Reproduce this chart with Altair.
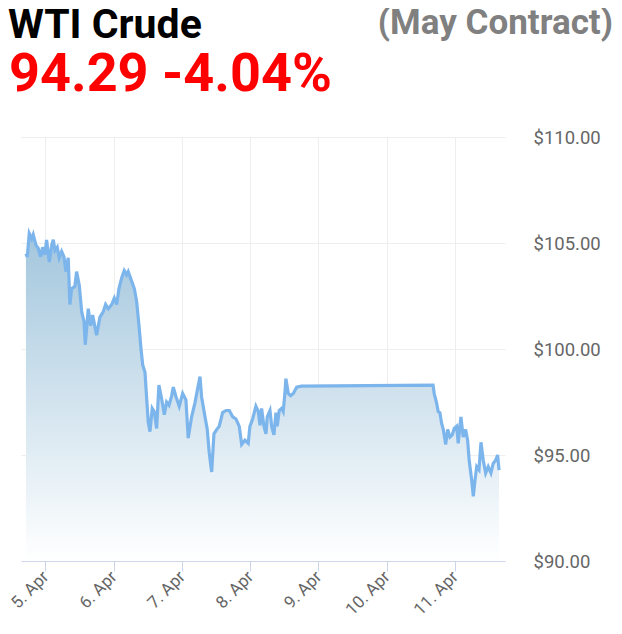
import altair as alt
import pandas as pd

# Hours since 5 Apr 2022 00:00 and WTI price readings
hours = [-6.86, -6.4, -5.7, -4.85, -4.3, -3.35, -2.55, -1.7, -1.0, -0.2,
         0.4, 1.35, 2.2, 2.75, 3.35, 4.15, 4.85, 5.7, 6.5, 7.2,
         8.0, 8.6, 9.2, 10.35, 10.95, 11.9, 12.75, 13.55, 14.0, 15.05,
         15.9, 16.6, 17.75, 18.0, 19.15, 20.3, 21.15, 22.1, 23.3, 24.2,
         25.05, 25.85, 26.8, 27.7, 28.55, 29.1, 30.3, 31.25, 32.05, 32.9,
         33.6, 34.2, 35.0, 35.6, 36.15, 36.75, 37.55, 38.25, 39.1, 39.9,
         40.85, 41.8, 42.6, 43.45, 44.4, 44.95, 45.9, 47.05, 48.25, 49.4,
         50.2, 51.4, 52.55, 53.4, 54.35, 54.9, 56.1, 56.9, 57.6, 58.45,
         59.25, 60.2, 61.1, 62.3, 63.5, 64.65, 65.85, 67.0, 68.15, 69.0,
         70.15, 71.3, 71.9, 72.85, 74.0, 74.85, 75.45, 76.0, 76.85, 77.55,
         78.0, 78.95, 79.55, 80.35, 81.05, 81.5, 82.2, 83.05, 83.6, 84.2,
         84.55, 85.4, 86.2, 87.15, 88.35, 90.0, 136.3, 136.7, 137.55, 138.1,
         138.7, 139.3, 139.9, 140.75, 141.45, 142.25, 143.05, 143.75, 144.6, 145.15,
         146.1, 146.9, 147.75, 148.45, 149.0, 149.9, 150.45, 151.05, 151.65, 152.45,
         153.15, 153.95, 154.8, 155.7, 156.65, 157.45, 158.3, 159.0, 159.5]
prices = [104.5, 104.35, 105.45, 105.2, 105.4, 104.9, 104.75, 104.35, 104.8, 104.45,
          105.15, 104.1, 104.9, 105.15, 104.65, 104.8, 104.3, 104.6, 104.35, 103.65,
          104.3, 102.1, 102.85, 102.95, 103.65, 103.0, 101.75, 101.3, 100.2, 101.9,
          101.1, 101.6, 100.8, 100.65, 101.5, 101.75, 102.1, 101.9, 102.1, 102.4,
          102.1, 102.85, 103.35, 103.7, 103.5, 103.65, 103.2, 102.85, 102.25, 101.1,
          100.0, 99.25, 98.9, 97.65, 96.55, 96.1, 97.2, 97.05, 96.25, 98.3,
          97.65, 96.9, 97.5, 97.35, 97.8, 98.2, 97.75, 97.3, 97.9, 97.6,
          95.8, 96.8, 97.45, 98.05, 98.7, 97.75, 96.8, 96.2, 95.1, 94.2,
          96.0, 96.2, 96.35, 97.0, 97.1, 97.1, 96.8, 96.7, 96.35, 95.5,
          95.7, 95.55, 96.35, 96.7, 97.3, 97.05, 96.4, 97.2, 96.35, 96.0,
          96.8, 97.1, 96.35, 95.95, 97.0, 96.35, 97.1, 97.2, 97.05, 97.9,
          98.6, 97.9, 97.8, 97.9, 98.2, 98.25, 98.3, 97.9, 97.45, 97.05,
          97.0, 96.5, 96.2, 95.5, 96.2, 95.85, 95.95, 96.25, 96.35, 95.55,
          96.8, 95.85, 96.2, 95.7, 94.75, 93.8, 93.05, 93.8, 94.45, 94.3,
          95.6, 94.75, 94.15, 94.45, 94.15, 94.6, 94.75, 95.0, 94.29]

title_text = "WTI Crude"
contract_text = "(May Contract)"
quote_text = "94.29 -4.04%"
tick_days = [5, 6, 7, 8, 9, 10, 11]
y_ticks = [90, 95, 100, 105, 110]

base = pd.Timestamp("2022-04-05 00:00:00")
df = pd.DataFrame({
    "time": [base + pd.Timedelta(hours=h) for h in hours],
    "price": prices,
})

FONT = "Roboto"
W, H = 484, 424

x_enc = alt.X(
    "time:T",
    scale=alt.Scale(domain=[alt.DateTime(year=2022, month=4, date=4, hours=15, minutes=24),
                            alt.DateTime(year=2022, month=4, date=11, hours=17, minutes=36)]),
    axis=alt.Axis(
        values=[alt.DateTime(year=2022, month=4, date=d) for d in tick_days],
        format="%-d. %b", labelAngle=-45, labelFontSize=17, labelColor="#666666",
        labelFont=FONT, labelAlign="right", labelBaseline="middle", labelPadding=3,
        domainColor="#ccd6eb", tickColor="#ccd6eb", tickSize=10,
        gridColor="#eeeeee", title=None,
    ),
)
y_enc = alt.Y(
    "price:Q",
    scale=alt.Scale(domain=[90, 110], nice=False, zero=False),
    axis=alt.Axis(
        orient="right", values=y_ticks, format="$.2f", labelFontSize=18.5,
        labelColor="#666666", labelFont=FONT, labelPadding=28, domain=False,
        ticks=False, gridColor="#eeeeee", title=None,
    ),
)

area = alt.Chart(df).mark_area(
    line=False,
    color=alt.Gradient(
        gradient="linear",
        stops=[alt.GradientStop(color="#ffffff", offset=0),
               alt.GradientStop(color="#a3c6dd", offset=1)],
        x1=1, x2=1, y1=1, y2=0,
    ),
).encode(x=x_enc, y=y_enc, y2=alt.datum(90))

line = alt.Chart(df).mark_line(color="#7cb5ec", strokeWidth=3.2).encode(x="time:T", y="price:Q")

t1 = alt.Chart(alt.Data(values=[{}])).mark_text(
    text=title_text, font=FONT, fontSize=41, fontWeight="bold", color="#000000",
    align="left", baseline="alphabetic",
).encode(x=alt.value(-13), y=alt.value(-99))
t2 = alt.Chart(alt.Data(values=[{}])).mark_text(
    text=contract_text, font=FONT, fontSize=35, fontWeight="bold", color="#808080",
    align="right", baseline="alphabetic",
).encode(x=alt.value(592), y=alt.value(-103))
t3 = alt.Chart(alt.Data(values=[{}])).mark_text(
    text=quote_text, font=FONT, fontSize=54, fontWeight="bold", color="#ff0000",
    align="left", baseline="alphabetic",
).encode(x=alt.value(-12), y=alt.value(-46))

chart = alt.layer(area, line, t1, t2, t3).properties(
    width=W, height=H,
    autosize=alt.AutoSizeParams(type="none"),
    padding={"left": 13, "top": 129, "right": 109, "bottom": 65},
).configure_view(stroke=None).configure_axis(grid=True)

chart.save("out.html", embed_options={"renderer": "svg", "actions": False})
